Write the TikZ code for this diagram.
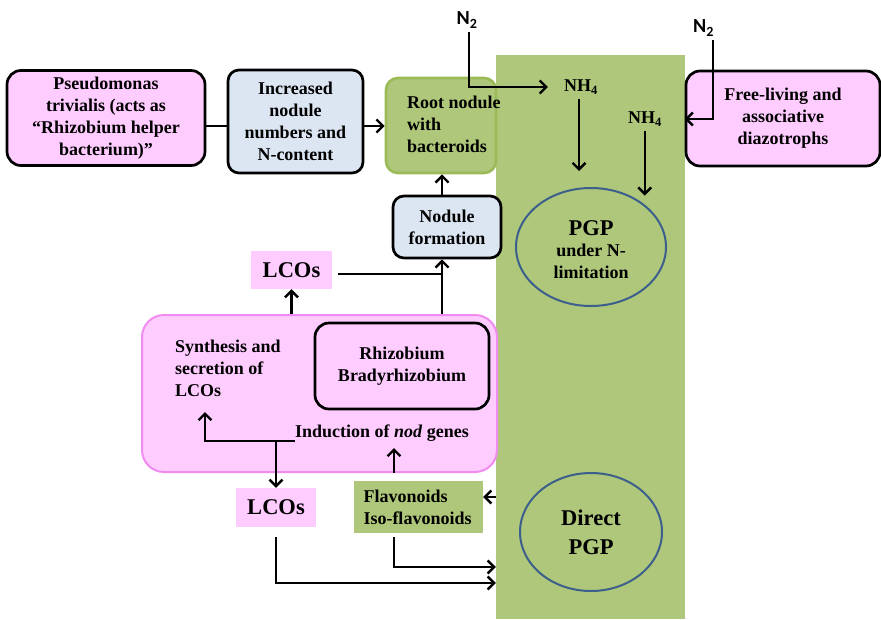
\documentclass[tikz,border=0pt]{standalone}
\usepackage{fontspec}
\setmainfont{Liberation Serif}
\newfontfamily\gasfont{Carlito}
\usetikzlibrary{arrows.meta,positioning,calc,shapes.geometric}
\definecolor{nodpink}{RGB}{255,204,255}
\definecolor{nodblue}{RGB}{220,230,242}
\definecolor{nodgreen}{RGB}{174,199,122}
\definecolor{nodgreenline}{RGB}{155,187,89}
\definecolor{nodpinkline}{RGB}{240,140,240}
\definecolor{pgpline}{RGB}{60,95,140}
\tikzset{
  fx/.style={x=1pt, y=-1pt, font=\fontsize{18}{22}\selectfont\bfseries},
  n box/.style={draw, line width=2.7pt, rounded corners=14pt, align=center, inner sep=0pt},
  n pink/.style={n box, fill=nodpink},
  n blue/.style={n box, fill=nodblue, rounded corners=11pt},
  n root/.style={n box, fill=nodgreen, draw=nodgreenline, rounded corners=12pt},
  n cell/.style={n box, draw=nodpinkline, fill=nodpink, line width=2pt, rounded corners=22pt},
  n tag/.style={fill=nodpink, inner sep=0pt, font=\fontsize{22.5}{27}\selectfont\bfseries},
  n flav/.style={fill=nodgreen, align=left, inner xsep=9.5pt, inner ysep=0pt, text width=110pt},
  n band/.style={fill=nodgreen, inner sep=0pt},
  n pgp/.style={ellipse, draw=pgpline, line width=2pt, align=center, inner sep=0pt},
  n gas/.style={inner sep=0pt, font=\gasfont\fontsize{20}{24}\selectfont\bfseries},
  n txt/.style={align=left, inner sep=0pt},
  n arr/.style={line width=2.4pt, -{Straight Barb[length=6.5pt,width=13pt]}},
  n line/.style={line width=2.4pt},
}
\newcommand{\bigtxt}{\fontsize{22.5}{29}\selectfont}

\begin{document}
\begin{tikzpicture}[fx]
\useasboundingbox (0,0) rectangle (881,619);
% green strip and the two PGP ellipses
\node[n band, minimum width=189, minimum height=564] (band) at (590.5,337) {};
\node[n pgp, minimum width=150, minimum height=118] (pgpA) at (591,247) {};
\node[align=center, inner sep=0pt] (pgpAtxt) at (591,250) {{\bigtxt PGP}\\[-1pt]under N-\\limitation};
\node[n pgp, minimum width=142, minimum height=118] (pgpB) at (591,532) {\bigtxt Direct\\[7pt]\bigtxt PGP};
% top row
\node[n pink, minimum width=198, minimum height=95] (pseudo) at (106,118) {Pseudomonas\\trivialis (acts as\\``Rhizobium helper\\bacterium)''};
\node[n blue, minimum width=135, minimum height=103] (incr) at (295.5,121.5) {Increased\\nodule\\numbers and\\N-content};
\node[n root, minimum width=110, minimum height=95] (root) at (441,125.5) {};
\node[n txt, anchor=west] (roottxt) at (407,124) {Root nodule\\with\\bacteroids};
\node[n pink, minimum width=194, minimum height=95] (free) at (783,118.5) {Free-living and\\associative\\diazotrophs};
\node[n gas] (n2A) at (467,20) {N\textsubscript{2}};
\node[n gas] (n2B) at (703.5,28) {N\textsubscript{2}};
\node[inner sep=0pt] (nhA) at (581,87) {NH\textsubscript{4}};
\node[inner sep=0pt] (nhB) at (645,119) {NH\textsubscript{4}};
% nodulation
\node[n blue, minimum width=108, minimum height=62] (nodf) at (447,227) {Nodule\\formation};
\node[n tag, minimum width=81, minimum height=38] (lcoA) at (291.5,270) {LCOs};
\node[n cell, minimum width=355, minimum height=157] (cell) at (319.5,393.5) {};
\node[n pink, minimum width=174, minimum height=86] (rhiz) at (402,366) {Rhizobium\\Bradyrhizobium};
\node[n txt, anchor=west] (synt) at (175,368) {Synthesis and\\secretion of\\LCOs};
\node[inner sep=0pt] (indn) at (382,433) {Induction of \textit{nod} genes};
\node[n tag, minimum width=80, minimum height=39] (lcoB) at (276,507.5) {LCOs};
\node[n flav, minimum height=52] (flav) at (418.5,507) {Flavonoids\\Iso-flavonoids};
\coordinate (hy) at (0,126);
\coordinate (jn) at (442,274);
\coordinate (sa) at (205,412);
\coordinate (sb) at (276,441);
\coordinate (sc) at (394,448);
\coordinate (fa) at ([yshift=10pt]flav.east);
\coordinate (fb) at (394,567);
\coordinate (lb) at (276,583);
% connectors
\draw[n line] (pseudo.east |- hy) -- (incr.west |- hy);
\draw[n arr] (incr.east |- hy) -- (root.west |- hy);
\draw[n arr, shorten <=4pt, shorten >=16pt] ([xshift=2pt]n2A.south) |- (nhA.west);
\draw[n arr, shorten <=4pt] ([xshift=9.5pt]n2B.south) |- (free.west |- nhB);
\draw[n arr, shorten <=5pt, shorten >=16pt] ([xshift=-2pt]nhA.south) -- ([xshift=-2pt]nhA.south |- pgpA.north);
\draw[n arr, shorten <=5pt, shorten >=9pt] (nhB.south -| pgpA.north east) -- (pgpA.north east);
\draw[n arr] (nodf.north -| jn) -- (root.south -| jn);
\draw[n arr] (cell.north -| jn) -- (nodf.south -| jn);
\draw[n line, shorten <=6pt] (lcoA.east |- jn) -- (jn);
\draw[n arr] (cell.north -| lcoA) -- (lcoA.south);
\draw[n arr] ([yshift=-8pt]indn.west) -| (sa);
\draw[n arr] (sb) -- (lcoB.north);
\draw[n arr] (cell.south -| sc) -- (sc);
\draw[n arr] (fa -| band.west) -- (fa);
\draw[n arr, shorten <=4pt] (flav.south -| fb) |- (band.west |- fb);
\draw[n arr, shorten <=10pt] (lcoB.south) |- (band.west |- lb);
\end{tikzpicture}
\end{document}
